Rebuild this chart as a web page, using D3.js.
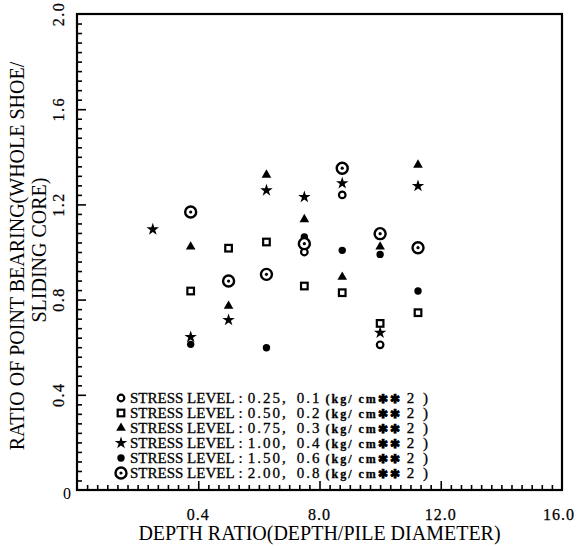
<!DOCTYPE html>
<html><head><meta charset="utf-8">
<script src="https://cdn.jsdelivr.net/npm/d3@7"></script>
<style>body{margin:0;background:#fff}</style>
</head><body><svg id="c" width="577" height="546"></svg>
<script>
// ---- data ----
const depth = [2.5, 3.75, 5.0, 6.25, 7.5, 8.75, 10.0, 11.25];
const s025 = [null, null, null, null, 1.00, 1.24, 0.61, null];
const s050 = [null, 0.836, 1.016, 1.042, 0.857, 0.829, 0.70, 0.745];
const s075 = [null, 1.022, 0.773, 1.324, 1.137, 0.895, 1.022, 1.366];
const s100 = [1.095, 0.643, 0.714, 1.259, 1.231, 1.289, 0.661, 1.277];
const s150 = [null, 0.612, null, 0.598, 1.063, 1.007, 0.99, 0.836];
const s200 = [null, 1.168, 0.878, 0.906, 1.035, 1.352, 1.077, 1.018];
const levels = ["0.25", "0.50", "0.75", "1.00", "1.50", "2.00"];
const pressures = ["0.1", "0.2", "0.3", "0.4", "0.6", "0.8"];
const markers = ["circle", "square", "triangle", "star", "dot", "target"];
const xTickVals = [4, 8, 12, 16];
const xTickLabels = ["0.4", "8.0", "12.0", "16.0"];
const yTickVals = [0.4, 0.8, 1.2, 1.6, 2.0];
const yTickLabels = ["0.4", "0.8", "1.2", "1.6", "2.0"];
const xTitle = "DEPTH RATIO(DEPTH/PILE DIAMETER)";
const yTitle1 = "RATIO OF POINT BEARING(WHOLE SHOE/";
const yTitle2 = "SLIDING CORE)";

const seriesVals = [s025, s050, s075, s100, s150, s200];

const svg = d3.select("#c");
const x = d3.scaleLinear([0, 16], [77, 562]);
const y = d3.scaleLinear([0, 2], [490, 14]);
const serif = "'Liberation Serif','DejaVu Serif',serif";

// minor/major ticks (inward)
const xMinor = d3.range(0, 48).map(i => i / 3).filter(v => v > 0 && v < 16 && Math.abs(v / 4 - Math.round(v / 4)) > 1e-6);
const yMinor = d3.range(1, 50).map(i => i * 0.04).filter(v => Math.abs(v / 0.4 - Math.round(v / 0.4)) > 1e-6);

const gx = svg.append("g").attr("transform", `translate(0,${y(0)})`);
gx.call(d3.axisBottom(x).tickValues(xMinor).tickSize(-5).tickFormat(""));
gx.append("g").call(d3.axisBottom(x).tickValues(xTickVals.slice(0, 3)).tickSize(-9).tickFormat(""));
gx.selectAll(".domain").remove();
gx.selectAll("line").attr("stroke", "#000").attr("stroke-width", 1.6);

const gy = svg.append("g").attr("transform", `translate(${x(0)},0)`);
gy.call(d3.axisLeft(y).tickValues(yMinor).tickSize(-5).tickFormat(""));
gy.append("g").call(d3.axisLeft(y).tickValues(yTickVals.slice(0, 4)).tickSize(-9).tickFormat(""));
gy.selectAll(".domain").remove();
gy.selectAll("line").attr("stroke", "#000").attr("stroke-width", 1.6);

// frame
svg.append("rect").attr("x", x(0)).attr("y", y(2)).attr("width", x(16) - x(0)).attr("height", y(0) - y(2))
  .attr("fill", "none").attr("stroke", "#000").attr("stroke-width", 2.2);

// tick labels
svg.selectAll(".xl").data(xTickVals).join("text")
  .attr("x", d => Math.min(x(d), 559)).attr("y", 520).attr("text-anchor", "middle")
  .attr("font-family", serif).attr("font-size", 16).attr("letter-spacing", 1)
  .attr("stroke", "#000").attr("stroke-width", 0.25)
  .text((d, i) => xTickLabels[i]);
svg.append("text").attr("x", x(0) - 10).attr("y", y(0) + 9).attr("text-anchor", "middle")
  .attr("font-family", serif).attr("font-size", 16).text("0");
svg.selectAll(".yl").data(yTickVals).join("text")
  .attr("transform", d => `translate(64,${y(d)}) rotate(-90)`).attr("text-anchor", "middle")
  .attr("font-family", serif).attr("font-size", 16).attr("letter-spacing", 1.5)
  .attr("stroke", "#000").attr("stroke-width", 0.25)
  .text((d, i) => yTickLabels[i]);

// titles
svg.append("text").attr("x", (x(0) + x(16)) / 2).attr("y", 540).attr("text-anchor", "middle")
  .attr("font-family", serif).attr("font-size", 20).text(xTitle);
svg.append("text").attr("transform", `translate(24,${(y(0) + y(2)) / 2 + 4}) rotate(-90)`).attr("text-anchor", "middle")
  .attr("font-family", serif).attr("font-size", 20).text(yTitle1);
svg.append("text").attr("transform", `translate(46,${(y(0) + y(2)) / 2 - 2}) rotate(-90)`).attr("text-anchor", "middle")
  .attr("font-family", serif).attr("font-size", 20).text(yTitle2);

// markers
function drawMarker(g, type) {
  if (type === "circle") g.append("circle").attr("r", 3.3).attr("fill", "#fff").attr("stroke", "#000").attr("stroke-width", 2.2);
  else if (type === "square") g.append("rect").attr("x", -3.3).attr("y", -3.3).attr("width", 6.6).attr("height", 6.6).attr("fill", "#fff").attr("stroke", "#000").attr("stroke-width", 2.2);
  else if (type === "triangle") g.append("path").attr("d", d3.symbol(d3.symbolTriangle, 40)()).attr("fill", "#000");
  else if (type === "star") g.append("path").attr("d", d3.symbol(d3.symbolStar, 48)()).attr("fill", "#000");
  else if (type === "dot") g.append("circle").attr("r", 3.7).attr("fill", "#000");
  else if (type === "target") {
    g.append("circle").attr("r", 5.5).attr("fill", "#fff").attr("stroke", "#000").attr("stroke-width", 2.4);
    g.append("circle").attr("r", 1.6).attr("fill", "#000");
  }
}
seriesVals.forEach((vals, si) => {
  vals.forEach((v, i) => {
    if (v == null) return;
    const g = svg.append("g").attr("transform", `translate(${x(depth[i])},${y(v)})`);
    drawMarker(g, markers[si]);
  });
});

// legend
levels.forEach((lv, i) => {
  const ly = 398 + i * 15;
  const g = svg.append("g").attr("transform", `translate(121,${ly})`);
  drawMarker(g, markers[i]);
  const t = svg.append("text").attr("x", 130).attr("y", ly + 5)
    .attr("font-family", serif).attr("font-size", 15).attr("stroke", "#000").attr("stroke-width", 0.3);
  t.append("tspan").text("STRESS LEVEL");
  t.append("tspan").attr("dx", 4).text(":");
  t.append("tspan").attr("dx", 5).attr("letter-spacing", 2).text(`${lv},`);
  t.append("tspan").attr("dx", 9).attr("letter-spacing", 2).text(pressures[i]);
  t.append("tspan").attr("dx", 4).attr("font-size", 12).attr("font-weight", "bold").attr("letter-spacing", 2).text("(kg/ cm✱✱");
  t.append("tspan").attr("dx", 5).attr("letter-spacing", 2.5).text("2 )");
});
</script></body></html>
